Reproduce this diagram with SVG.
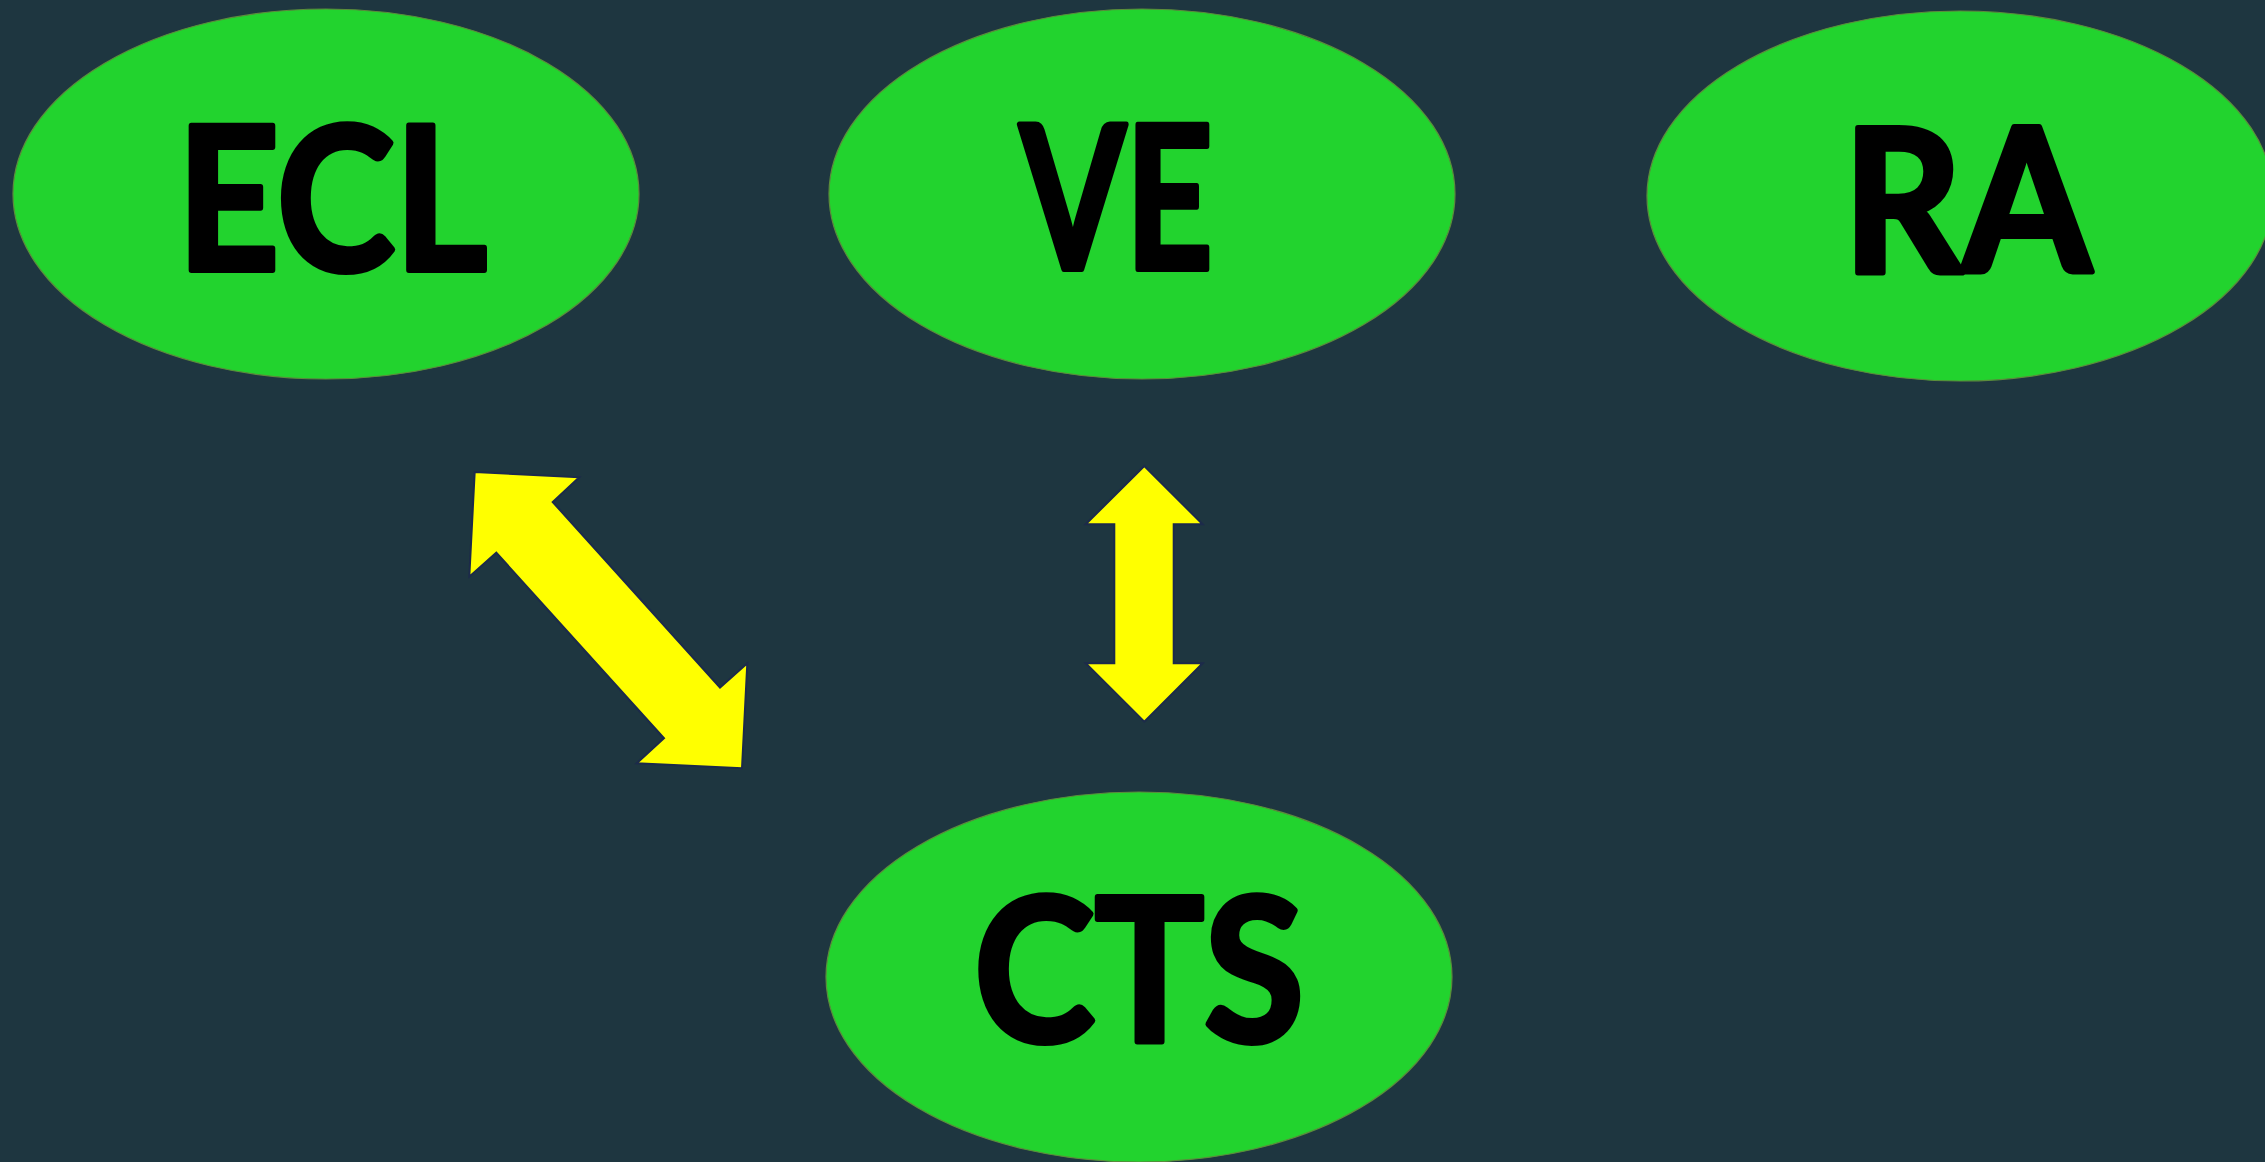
<svg xmlns="http://www.w3.org/2000/svg" width="2265" height="1162" viewBox="0 0 2265 1162">
<style>
.node{fill:#22d32e;stroke:#5c8c3c;stroke-width:1.2}
.lbl{font-family:Lato,"Open Sans","Liberation Sans",sans-serif;font-weight:700;font-size:199px;fill:#000;stroke:#000;stroke-width:6;stroke-linejoin:round;text-anchor:start}
.arrow{fill:#ffff00;stroke:#1c2a4a;stroke-width:2;stroke-linejoin:miter}
</style>
<rect x="0" y="0" width="2265" height="1162" fill="#1e3640"/>
<g id="node-ECL">
<ellipse class="node" cx="326" cy="194" rx="313" ry="185"/>
<text class="lbl" x="177" y="270" textLength="310" lengthAdjust="spacingAndGlyphs">ECL</text>
</g>
<g id="node-VE">
<ellipse class="node" cx="1142" cy="194" rx="313" ry="185"/>
<text class="lbl" x="1020" y="269" textLength="193" lengthAdjust="spacingAndGlyphs">VE</text>
</g>
<g id="node-RA">
<ellipse class="node" cx="1960" cy="196" rx="313" ry="185"/>
<text class="lbl" x="1843" y="272" textLength="248" lengthAdjust="spacingAndGlyphs">RA</text>
</g>
<g id="node-CTS">
<ellipse class="node" cx="1139" cy="977" rx="313" ry="185"/>
<text class="lbl" x="974" y="1041" textLength="330" lengthAdjust="spacingAndGlyphs">CTS</text>
</g>
<g id="connectors">
<polygon class="arrow" points="474.7,472 579.3,477.3 552.7,502 720,687.7 747.3,663.3 742,768.3 636.7,763.3 664,738.3 496.3,552.7 469.3,576.7"/>
<polygon class="arrow" points="1144.3,466 1202.7,524.3 1173.7,524.3 1173.7,663.3 1202.7,663.3 1144.3,721.7 1085.7,663.3 1114.3,663.3 1114.3,524.3 1085.7,524.3"/>
</g>
</svg>
